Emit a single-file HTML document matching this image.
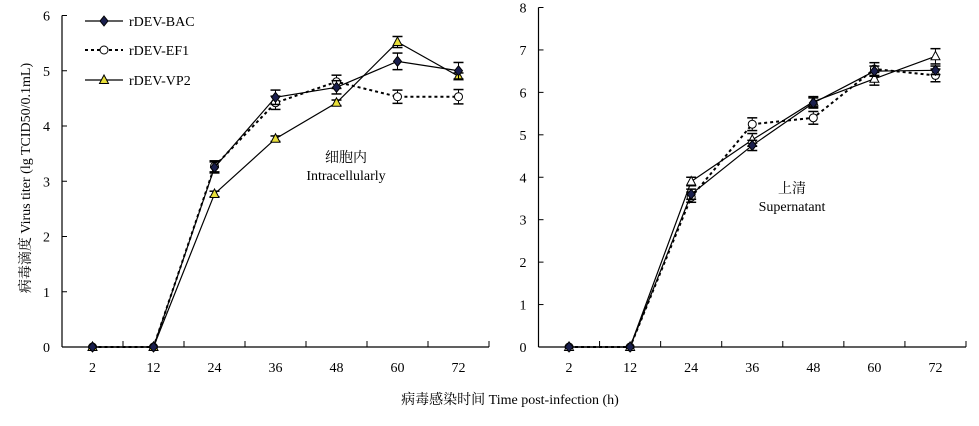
<!DOCTYPE html>
<html><head><meta charset="utf-8"><style>
body{margin:0;background:#fff}
svg text{font-family:"Liberation Serif","Noto Serif CJK SC",serif;fill:#000}
</style></head><body>
<svg width="979" height="421" xmlns="http://www.w3.org/2000/svg">
<g id="root"></g>
</svg>
<script>
const categories=["2","12","24","36","48","60","72"];
const leftBAC=[0,0,3.25,4.52,4.7,5.17,5.0];
const leftBACerr=[0,0,0.1,0.13,0.12,0.15,0.15];
const leftEF1=[0,0,3.27,4.42,4.8,4.53,4.53];
const leftEF1err=[0,0,0.1,0.12,0.12,0.12,0.13];
const leftVP2=[0,0,2.77,3.77,4.42,5.52,4.9];
const leftVP2err=[0,0,0.05,0.05,0.05,0.1,0.06];
const rightBAC=[0,0,3.6,4.75,5.75,6.5,6.52];
const rightBACerr=[0,0,0.12,0.12,0.12,0.12,0.1];
const rightEF1=[0,0,3.53,5.25,5.4,6.55,6.4];
const rightEF1err=[0,0,0.12,0.15,0.15,0.15,0.15];
const rightVP2=[0,0,3.9,4.88,5.78,6.32,6.85];
const rightVP2err=[0,0,0.1,0.15,0.12,0.15,0.18];
const leftTicks=[0,1,2,3,4,5,6];
const rightTicks=[0,1,2,3,4,5,6,7,8];

const NS="http://www.w3.org/2000/svg";
const root=document.getElementById('root');
function mk(tag,attrs,parent){const e=document.createElementNS(NS,tag);for(const k in attrs)e.setAttribute(k,attrs[k]);(parent||root).appendChild(e);return e;}

function panel(cfg){
  const g=mk('g',{});
  
  
  const x0=cfg.x0,x1=cfg.x1,y0=cfg.y0,yTop=cfg.yTop,ymax=cfg.ymax;
  const band=(x1-x0)/7;
  const xs=i=>x0+band*(i+0.5);
  const ys=v=>y0-(y0-yTop)*v/ymax;
  const ya=mk('line',{x1:x0,y1:yTop,x2:x0,y2:y0,stroke:'#000','stroke-width':1.2},g);
  
  const xa=mk('line',{x1:x0,y1:y0,x2:x1,y2:y0,stroke:'#000','stroke-width':1.2},g);
  
  cfg.ticks.forEach(t=>{
    mk('line',{x1:x0,y1:ys(t),x2:x0+5,y2:ys(t),stroke:'#000'},g);
    const tx=mk('text',{x:x0-12,y:ys(t)+5,'font-size':14,'text-anchor':'end'},g);
    tx.textContent=t;
    
  });
  for(let k=1;k<=7;k++){mk('line',{x1:x0+band*k,y1:y0,x2:x0+band*k,y2:y0-6,stroke:'#000'},g);}
  categories.forEach((c,i)=>{
    const tx=mk('text',{x:xs(i),y:y0+25,'font-size':14,'text-anchor':'middle'},g);
    tx.textContent=c;
    
  });
  const series=[
    {d:cfg.ef1,e:cfg.ef1e,dash:'3,3',w:2,m:'circle',n:'ef1'},
    {d:cfg.vp2,e:cfg.vp2e,dash:'',w:1.2,m:'tri',n:'vp2'},
    {d:cfg.bac,e:cfg.bace,dash:'',w:1.2,m:'diamond',n:'bac'}];
  series.forEach(s=>{
    const pts=s.d.map((v,i)=>xs(i)+','+ys(v)).join(' ');
    const pl=mk('polyline',{points:pts,fill:'none',stroke:'#000','stroke-width':s.w,'stroke-dasharray':s.dash},g);
    
    s.d.forEach((v,i)=>{
      const x=xs(i),y=ys(v),e=s.e[i];
      if(e>0){
        mk('line',{x1:x,y1:ys(v+e),x2:x,y2:ys(v-e),stroke:'#000'},g);
        mk('line',{x1:x-5,y1:ys(v+e),x2:x+5,y2:ys(v+e),stroke:'#000','stroke-width':1.5},g);
        mk('line',{x1:x-5,y1:ys(v-e),x2:x+5,y2:ys(v-e),stroke:'#000','stroke-width':1.5},g);
      }
      let m;
      if(s.m==='circle')m=mk('circle',{cx:x,cy:y,r:4,fill:'#fff',stroke:'#000'},g);
      else if(s.m==='tri')m=mk('polygon',{points:`${x},${y-5} ${x-4.5},${y+3.5} ${x+4.5},${y+3.5}`,fill:cfg.triFill,stroke:'#000'},g);
      else m=mk('polygon',{points:`${x},${y-5} ${x+4},${y} ${x},${y+5} ${x-4},${y}`,fill:'#1a1f4d',stroke:'#000'},g);
      
    });
  });
  const l1=mk('text',{x:cfg.lx,y:cfg.ly,'font-size':14,'text-anchor':'middle',fill:'#6a5a7a'},g);
  l1.textContent=cfg.cn;
  const l2=mk('text',{x:cfg.lx,y:cfg.ly+18,'font-size':14,'text-anchor':'middle'},g);
  l2.textContent=cfg.en;
}
panel({name:'intracellular-panel',x0:62,x1:489,y0:347,yTop:15.5,ymax:6,ticks:leftTicks,
  bac:leftBAC,bace:leftBACerr,ef1:leftEF1,ef1e:leftEF1err,vp2:leftVP2,vp2e:leftVP2err,triFill:'#e8df3a',
  lx:346,ly:162,cn:'细胞内',en:'Intracellularly'});
panel({name:'supernatant-panel',x0:538.5,x1:966,y0:347,yTop:7.5,ymax:8,ticks:rightTicks,
  bac:rightBAC,bace:rightBACerr,ef1:rightEF1,ef1e:rightEF1err,vp2:rightVP2,vp2e:rightVP2err,triFill:'#fff',
  lx:792,ly:193,cn:'上清',en:'Supernatant'});

// legend
const leg=[{n:'bac',t:'rDEV-BAC',y:21,dash:'',m:'diamond'},{n:'ef1',t:'rDEV-EF1',y:50,dash:'3,3',m:'circle'},{n:'vp2',t:'rDEV-VP2',y:80,dash:'',m:'tri'}];
leg.forEach(l=>{
  const g=mk('g',{});
  
  
  mk('line',{x1:85,y1:l.y,x2:123,y2:l.y,stroke:'#000','stroke-width':l.dash?2:1.2,'stroke-dasharray':l.dash},g);
  const x=104,y=l.y;
  if(l.m==='circle')mk('circle',{cx:x,cy:y,r:4,fill:'#fff',stroke:'#000'},g);
  else if(l.m==='tri')mk('polygon',{points:`${x},${y-5} ${x-4.5},${y+3.5} ${x+4.5},${y+3.5}`,fill:'#e8df3a',stroke:'#000'},g);
  else mk('polygon',{points:`${x},${y-5} ${x+4},${y} ${x},${y+5} ${x-4},${y}`,fill:'#1a1f4d',stroke:'#000'},g);
  const t=mk('text',{x:129,y:l.y+5,'font-size':14},g);t.textContent=l.t;
});
const yt=mk('text',{x:0,y:0,'font-size':14,'text-anchor':'middle',fill:'#5a3a2a',transform:'translate(30,178) rotate(-90)'});
yt.textContent='病毒滴度 Virus titer (lg TCID50/0.1mL)';

const xt=mk('text',{x:510,y:404,'font-size':14,'text-anchor':'middle'});
xt.textContent='病毒感染时间 Time post-infection (h)';

</script>
</body></html>
